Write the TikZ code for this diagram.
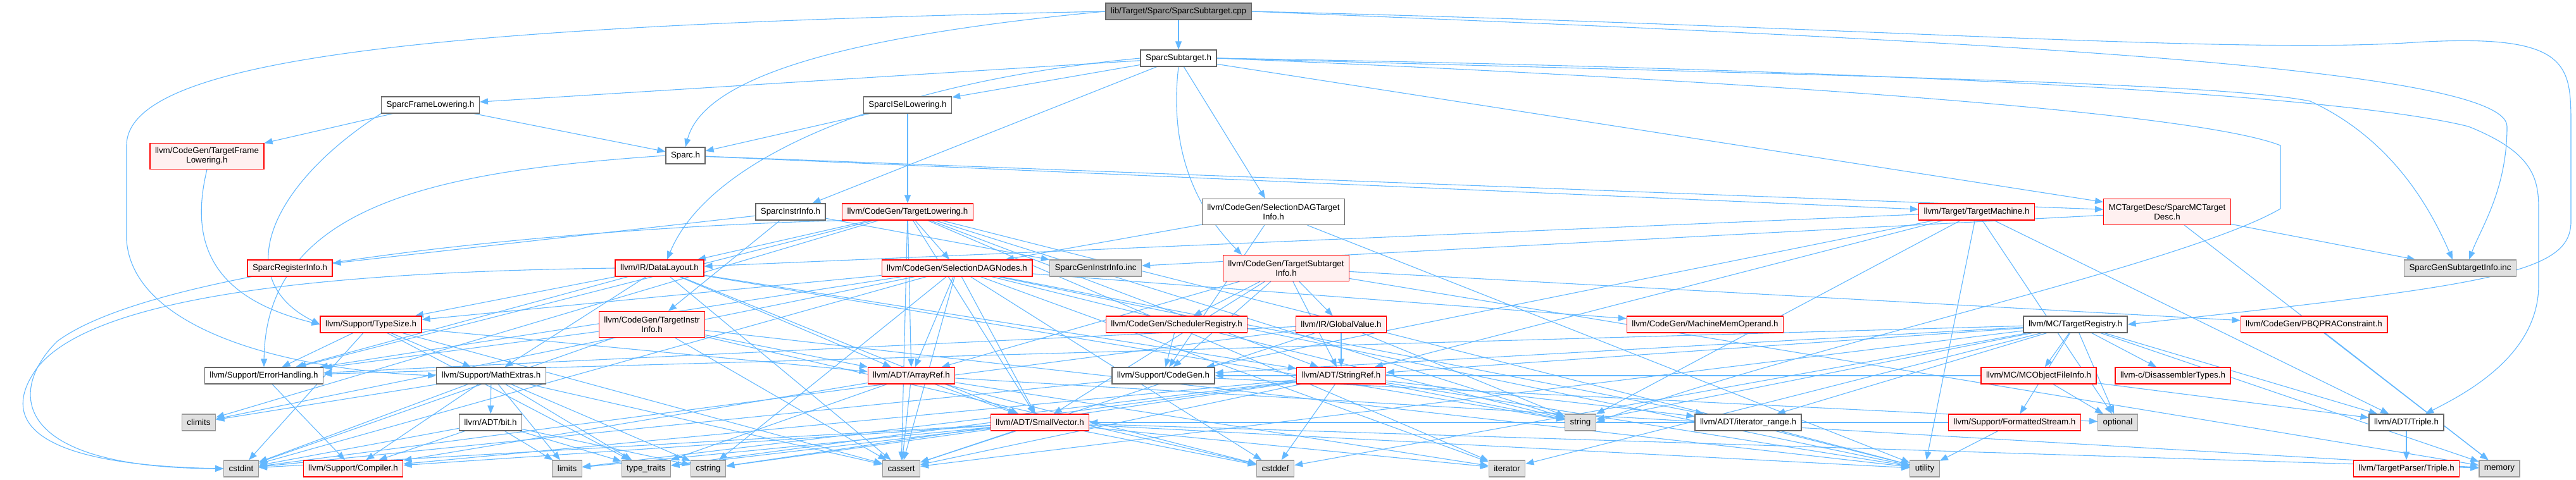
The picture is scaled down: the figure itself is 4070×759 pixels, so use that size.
\documentclass[tikz,border=0pt]{standalone}
\usepackage{fontspec}
\setmainfont{Liberation Sans}
\usetikzlibrary{arrows.meta,backgrounds}
\definecolor{edgeblue}{HTML}{63B8FF}
\definecolor{redfill}{HTML}{FFF0F0}
\definecolor{sysfill}{HTML}{E0E0E0}
\definecolor{sysline}{HTML}{999999}
\definecolor{rootfill}{HTML}{999999}
\definecolor{boxline}{HTML}{666666}

\begin{document}
\begin{tikzpicture}[x=0.5pt, y=-0.5pt,
    hbox/.style={rectangle, draw, line width=0.65pt, inner xsep=4pt, inner ysep=0pt, minimum height=13pt, align=center, font=\fontsize{6.67}{7.5}\selectfont},
    whitebox/.style={hbox, draw=boxline, fill=white},
    redbox/.style={hbox, draw=red, fill=redfill},
    graybox/.style={hbox, draw=sysline, fill=sysfill},
    rootbox/.style={hbox, draw=boxline, fill=rootfill},
    twoline/.style={minimum height=20.5pt},
    dep/.style={draw=edgeblue, line width=0.55pt, -{Triangle[length=6.5pt, width=5pt]}}]

    \useasboundingbox (0,0) rectangle (4070,759);

    % Sparc headers
    \node[rootbox] (cpp) at (1862,18) {lib/Target/Sparc/SparcSubtarget.cpp};
    \node[whitebox] (subh) at (1862,92) {SparcSubtarget.h};
    \node[whitebox] (frame) at (680,166) {SparcFrameLowering.h};
    \node[whitebox] (isel) at (1434,166) {SparcISelLowering.h};
    \node[redbox, twoline] (tfl) at (327,247) {llvm/CodeGen/TargetFrame\\Lowering.h};
    \node[whitebox] (sparch) at (1083,246) {Sparc.h};
    \node[whitebox] (instr) at (1249,335) {SparcInstrInfo.h};
    \node[redbox] (tlow) at (1434,335) {llvm/CodeGen/TargetLowering.h};
    \node[whitebox, twoline] (sdti) at (2012,335) {llvm/CodeGen/SelectionDAGTarget\\Info.h};
    \node[redbox] (tm) at (3123,335) {llvm/Target/TargetMachine.h};
    \node[redbox, twoline] (mcdesc) at (3424,335) {MCTargetDesc/SparcMCTarget\\Desc.h};

    % LLVM headers
    \node[redbox] (reginfo) at (458,424) {SparcRegisterInfo.h};
    \node[redbox] (dl) at (1042,424) {llvm/IR/DataLayout.h};
    \node[redbox] (sdnodes) at (1512,424) {llvm/CodeGen/SelectionDAGNodes.h};
    \node[graybox] (geninstr) at (1731,424) {SparcGenInstrInfo.inc};
    \node[redbox, twoline] (tsi) at (2032,424) {llvm/CodeGen/TargetSubtarget\\Info.h};
    \node[graybox] (gensub) at (3887,424) {SparcGenSubtargetInfo.inc};
    \node[redbox] (typesize) at (586,513) {llvm/Support/TypeSize.h};
    \node[redbox, twoline] (tii) at (1030,513) {llvm/CodeGen/TargetInstr\\Info.h};
    \node[redbox] (sched) at (1859,513) {llvm/CodeGen/SchedulerRegistry.h};
    \node[redbox] (gv) at (2119,513) {llvm/IR/GlobalValue.h};
    \node[redbox] (mmo) at (2694,513) {llvm/CodeGen/MachineMemOperand.h};
    \node[whitebox] (treg) at (3279,513) {llvm/MC/TargetRegistry.h};
    \node[redbox] (pbqp) at (3656,513) {llvm/CodeGen/PBQPRAConstraint.h};
    \node[whitebox] (errh) at (417,594) {llvm/Support/ErrorHandling.h};
    \node[whitebox] (mathx) at (776,594) {llvm/Support/MathExtras.h};
    \node[redbox] (aref) at (1440,594) {llvm/ADT/ArrayRef.h};
    \node[whitebox] (cgen) at (1838,594) {llvm/Support/CodeGen.h};
    \node[redbox] (sref) at (2119,594) {llvm/ADT/StringRef.h};
    \node[redbox] (mcofi) at (3221,594) {llvm/MC/MCObjectFileInfo.h};
    \node[redbox] (distypes) at (3433,594) {llvm-c/DisassemblerTypes.h};
    \node[graybox] (climits) at (314,668) {climits};
    \node[whitebox] (bit) at (775,668) {llvm/ADT/bit.h};
    \node[redbox] (svec) at (1643,668) {llvm/ADT/SmallVector.h};
    \node[graybox] (string) at (2497,668) {string};
    \node[whitebox] (itrange) at (2762,668) {llvm/ADT/iterator\_range.h};
    \node[redbox] (fstream) at (3183,668) {llvm/Support/FormattedStream.h};
    \node[graybox] (optional) at (3346,668) {optional};
    \node[whitebox] (triple) at (3802,668) {llvm/ADT/Triple.h};

    % Bottom row
    \node[graybox] (cstdint) at (381,741) {cstdint};
    \node[redbox] (compiler) at (558,741) {llvm/Support/Compiler.h};
    \node[graybox] (limits) at (896,741) {limits};
    \node[graybox] (typetraits) at (1021,741) {type\_traits};
    \node[graybox] (cstring) at (1119,741) {cstring};
    \node[graybox] (cassert) at (1424,741) {cassert};
    \node[graybox] (cstddef) at (2015,741) {cstddef};
    \node[graybox] (iterator) at (2381,741) {iterator};
    \node[graybox] (utility) at (3041,741) {utility};
    \node[redbox] (tptriple) at (3802,741) {llvm/TargetParser/Triple.h};
    \node[graybox] (memory) at (3949,741) {memory};

    \begin{scope}[on background layer]
    % SparcSubtarget.cpp
    \draw[dep] (cpp) -- (subh);
    \draw[dep] (cpp.west) .. controls (1300,60) and (1110,130) .. (sparch.north);
    \draw[dep] (cpp.west) .. controls (700,40) and (200,90) .. (200,230) -- (200,380) .. controls (210,520) and (450,585) .. (mathx.west);
    \draw[dep] (cpp.east) .. controls (2900,40) and (3500,85) .. (3800,68) .. controls (4062,50) and (4062,100) .. (4062,200) -- (4062,350) .. controls (4062,430) and (3950,450) .. (treg.east);
    \draw[dep] (cpp.east) .. controls (3000,60) and (3961,100) .. (3961,200) .. controls (3961,300) and (3920,360) .. ([xshift=7pt]gensub.north);

    % SparcSubtarget.h
    \draw[dep] (subh) -- (frame);
    \draw[dep] (subh) -- (isel);
    \draw[dep] (subh) -- (instr);
    \draw[dep] (subh) -- (sdti);
    \draw[dep] (subh) -- (mcdesc);
    \draw[dep] (subh.south) .. controls (1845,250) and (1900,340) .. ([xshift=-35pt]tsi.north);
    \draw[dep] (subh.west) .. controls (1400,130) and (1120,250) .. ([xshift=6pt]dl.north);
    \draw[dep] (subh.east) .. controls (2900,120) and (3500,130) .. (3650,160) .. controls (3780,220) and (3840,330) .. ([xshift=-6pt]gensub.north);
    \draw[dep] (subh.east) .. controls (3000,110) and (3700,150) .. (3900,200) .. controls (4000,240) and (4011,280) .. (4011,330) -- (4011,450) .. controls (4011,560) and (3900,620) .. ([xshift=15pt]triple.north);
    \draw[dep] (subh.east) .. controls (2600,120) and (3450,170) .. (3603,230) -- (3603,330) .. controls (3450,420) and (2800,560) .. (string.east);

    % Sparc target headers
    \draw[dep] (frame) -- (sparch);
    \draw[dep] (frame) -- (tfl);
    \draw[dep] (frame.south west) .. controls (430,290) and (360,440) .. (typesize.west);
    \draw[dep] (tfl.south) .. controls (300,380) and (330,470) .. (typesize.west);
    \draw[dep] (isel) -- (sparch);
    \draw[dep] (isel) -- (tlow);
    \draw[dep] (sparch) -- (mcdesc);
    \draw[dep] (sparch) -- (tm);
    \draw[dep] (sparch.west) .. controls (700,270) and (420,320) .. (errh.north);
    \draw[dep] (instr) -- (reginfo);
    \draw[dep] (instr) -- (tii);
    \draw[dep] (instr) -- (geninstr);
    \draw[dep] (mcdesc) -- (geninstr);
    \draw[dep] (mcdesc) -- (gensub);
    \draw[dep] (mcdesc) -- (memory);

    % TargetLowering.h
    \draw[dep] (tlow) -- (aref);
    \draw[dep] (tlow) -- (svec);
    \draw[dep] (tlow) -- (sref);
    \draw[dep] (tlow) -- (sdnodes);
    \draw[dep] (tlow) -- (dl);
    \draw[dep] (tlow) -- (errh);
    \draw[dep] (tlow) -- (cassert);
    \draw[dep] (tlow) -- (climits);
    \draw[dep] (tlow.south west) .. controls (900,360) and (250,420) .. (90,540) .. controls (10,620) and (20,740) .. (cstdint.west);
    \draw[dep] (tlow) -- (iterator);
    \draw[dep] (tlow) -- (string);
    \draw[dep] (tlow) -- (utility);

    % SelectionDAGTargetInfo.h and TargetMachine.h
    \draw[dep] (sdti) -- (sdnodes);
    \draw[dep] (sdti) -- (cgen);
    \draw[dep] (sdti) -- (utility);
    \draw[dep] (tm) -- (sref);
    \draw[dep] (tm) -- (dl);
    \draw[dep] (tm) -- (cgen);
    \draw[dep] (tm) -- (triple);
    \draw[dep] (tm) -- (optional);
    \draw[dep] (tm) -- (string);
    \draw[dep] (tm) -- (utility);

    % DataLayout.h
    \draw[dep] (dl) -- (aref);
    \draw[dep] (dl) -- (svec);
    \draw[dep] (dl) -- (sref);
    \draw[dep] (dl) -- (errh);
    \draw[dep] (dl) -- (mathx);
    \draw[dep] (dl) -- (typesize);
    \draw[dep] (dl) -- (cassert);
    \draw[dep] (dl.west) .. controls (500,430) and (150,470) .. (60,580) .. controls (0,660) and (40,735) .. (cstdint.west);
    \draw[dep] (dl) -- (string);

    % SelectionDAGNodes.h
    \draw[dep] (sdnodes) -- (aref);
    \draw[dep] (sdnodes) -- (svec);
    \draw[dep] (sdnodes) -- (itrange);
    \draw[dep] (sdnodes) -- (mmo);
    \draw[dep] (sdnodes) -- (errh);
    \draw[dep] (sdnodes) -- (typesize);
    \draw[dep] (sdnodes) -- (cassert);
    \draw[dep] (sdnodes) -- (climits);
    \draw[dep] (sdnodes) -- (cstddef);
    \draw[dep] (sdnodes) -- (cstdint);
    \draw[dep] (sdnodes) -- (cstring);
    \draw[dep] (sdnodes) -- (iterator);
    \draw[dep] (sdnodes) -- (string);
    \draw[dep] (sdnodes) -- (utility);

    % TargetSubtargetInfo.h
    \draw[dep] (tsi) -- (aref);
    \draw[dep] (tsi) -- (svec);
    \draw[dep] (tsi) -- (sref);
    \draw[dep] (tsi) -- (pbqp);
    \draw[dep] (tsi) -- (sched);
    \draw[dep] (tsi) -- (gv);
    \draw[dep] (tsi) -- (cgen);
    \draw[dep] (tsi) -- (memory);

    % TypeSize.h, TargetInstrInfo.h, SchedulerRegistry.h, GlobalValue.h
    \draw[dep] (typesize) -- (mathx);
    \draw[dep] (typesize) -- (errh);
    \draw[dep] (typesize) -- (aref);
    \draw[dep] (typesize) -- (cassert);
    \draw[dep] (typesize) -- (cstdint);
    \draw[dep] (typesize) -- (typetraits);
    \draw[dep] (tii) -- (aref);
    \draw[dep] (tii) -- (errh);
    \draw[dep] (tii) -- (cassert);
    \draw[dep] (tii) -- (cstddef);
    \draw[dep] (tii) -- (cstdint);
    \draw[dep] (tii) -- (utility);
    \draw[dep] (sched) -- (cgen);
    \draw[dep] (gv) -- (sref);
    \draw[dep] (gv) -- (errh);
    \draw[dep] (gv) -- (cassert);
    \draw[dep] (gv) -- (cstdint);
    \draw[dep] (gv) -- (string);

    % TargetRegistry.h
    \draw[dep] (treg) -- (distypes);
    \draw[dep] (treg) -- (sref);
    \draw[dep] (treg) -- (itrange);
    \draw[dep] (treg) -- (mcofi);
    \draw[dep] (treg) -- (cgen);
    \draw[dep] (treg) -- (errh);
    \draw[dep] (treg) -- (fstream);
    \draw[dep] (treg) -- (triple);
    \draw[dep] (treg) -- (cassert);
    \draw[dep] (treg) -- (cstddef);
    \draw[dep] (treg) -- (iterator);
    \draw[dep] (treg) -- (memory);
    \draw[dep] (treg) -- (optional);
    \draw[dep] (treg) -- (string);
    \draw[dep] (pbqp) -- (memory);

    % Support and ADT
    \draw[dep] (errh) -- (compiler);
    \draw[dep] (mathx) -- (bit);
    \draw[dep] (mathx) -- (compiler);
    \draw[dep] (mathx) -- (cassert);
    \draw[dep] (mathx) -- (climits);
    \draw[dep] (mathx) -- (cstdint);
    \draw[dep] (mathx) -- (cstring);
    \draw[dep] (mathx) -- (limits);
    \draw[dep] (mathx) -- (typetraits);
    \draw[dep] (aref) -- (svec);
    \draw[dep] (aref) -- (compiler);
    \draw[dep] (aref) -- (cassert);
    \draw[dep] (aref) -- (cstddef);
    \draw[dep] (aref) -- (iterator);
    \draw[dep] (aref) -- (memory);
    \draw[dep] (aref) -- (typetraits);
    \draw[dep] (cgen) -- (cstdint);
    \draw[dep] (cgen) -- (optional);
    \draw[dep] (sref) -- (itrange);
    \draw[dep] (sref) -- (compiler);
    \draw[dep] (sref) -- (cassert);
    \draw[dep] (sref) -- (cstddef);
    \draw[dep] (sref) -- (cstring);
    \draw[dep] (sref) -- (limits);
    \draw[dep] (sref) -- (string);
    \draw[dep] (sref) -- (typetraits);
    \draw[dep] (sref) -- (utility);
    \draw[dep] (mcofi) -- (triple);
    \draw[dep] (mcofi) -- (cgen);
    \draw[dep] (mcofi) -- (optional);
    \draw[dep] (bit) -- (compiler);
    \draw[dep] (bit) -- (cstdint);
    \draw[dep] (bit) -- (limits);
    \draw[dep] (bit) -- (typetraits);
    \draw[dep] (bit) -- (cstring);
    \draw[dep] (svec) -- (compiler);
    \draw[dep] (svec) -- (cassert);
    \draw[dep] (svec) -- (cstddef);
    \draw[dep] (svec) -- (cstdint);
    \draw[dep] (svec) -- (cstring);
    \draw[dep] (svec) -- (iterator);
    \draw[dep] (svec) -- (limits);
    \draw[dep] (svec) -- (memory);
    \draw[dep] (svec) -- (typetraits);
    \draw[dep] (svec) -- (utility);
    \draw[dep] (itrange) -- (utility);
    \draw[dep] (fstream) -- (svec);
    \draw[dep] (fstream) -- (utility);
    \draw[dep] (triple) -- (tptriple);
    \end{scope}
\end{tikzpicture}
\end{document}
